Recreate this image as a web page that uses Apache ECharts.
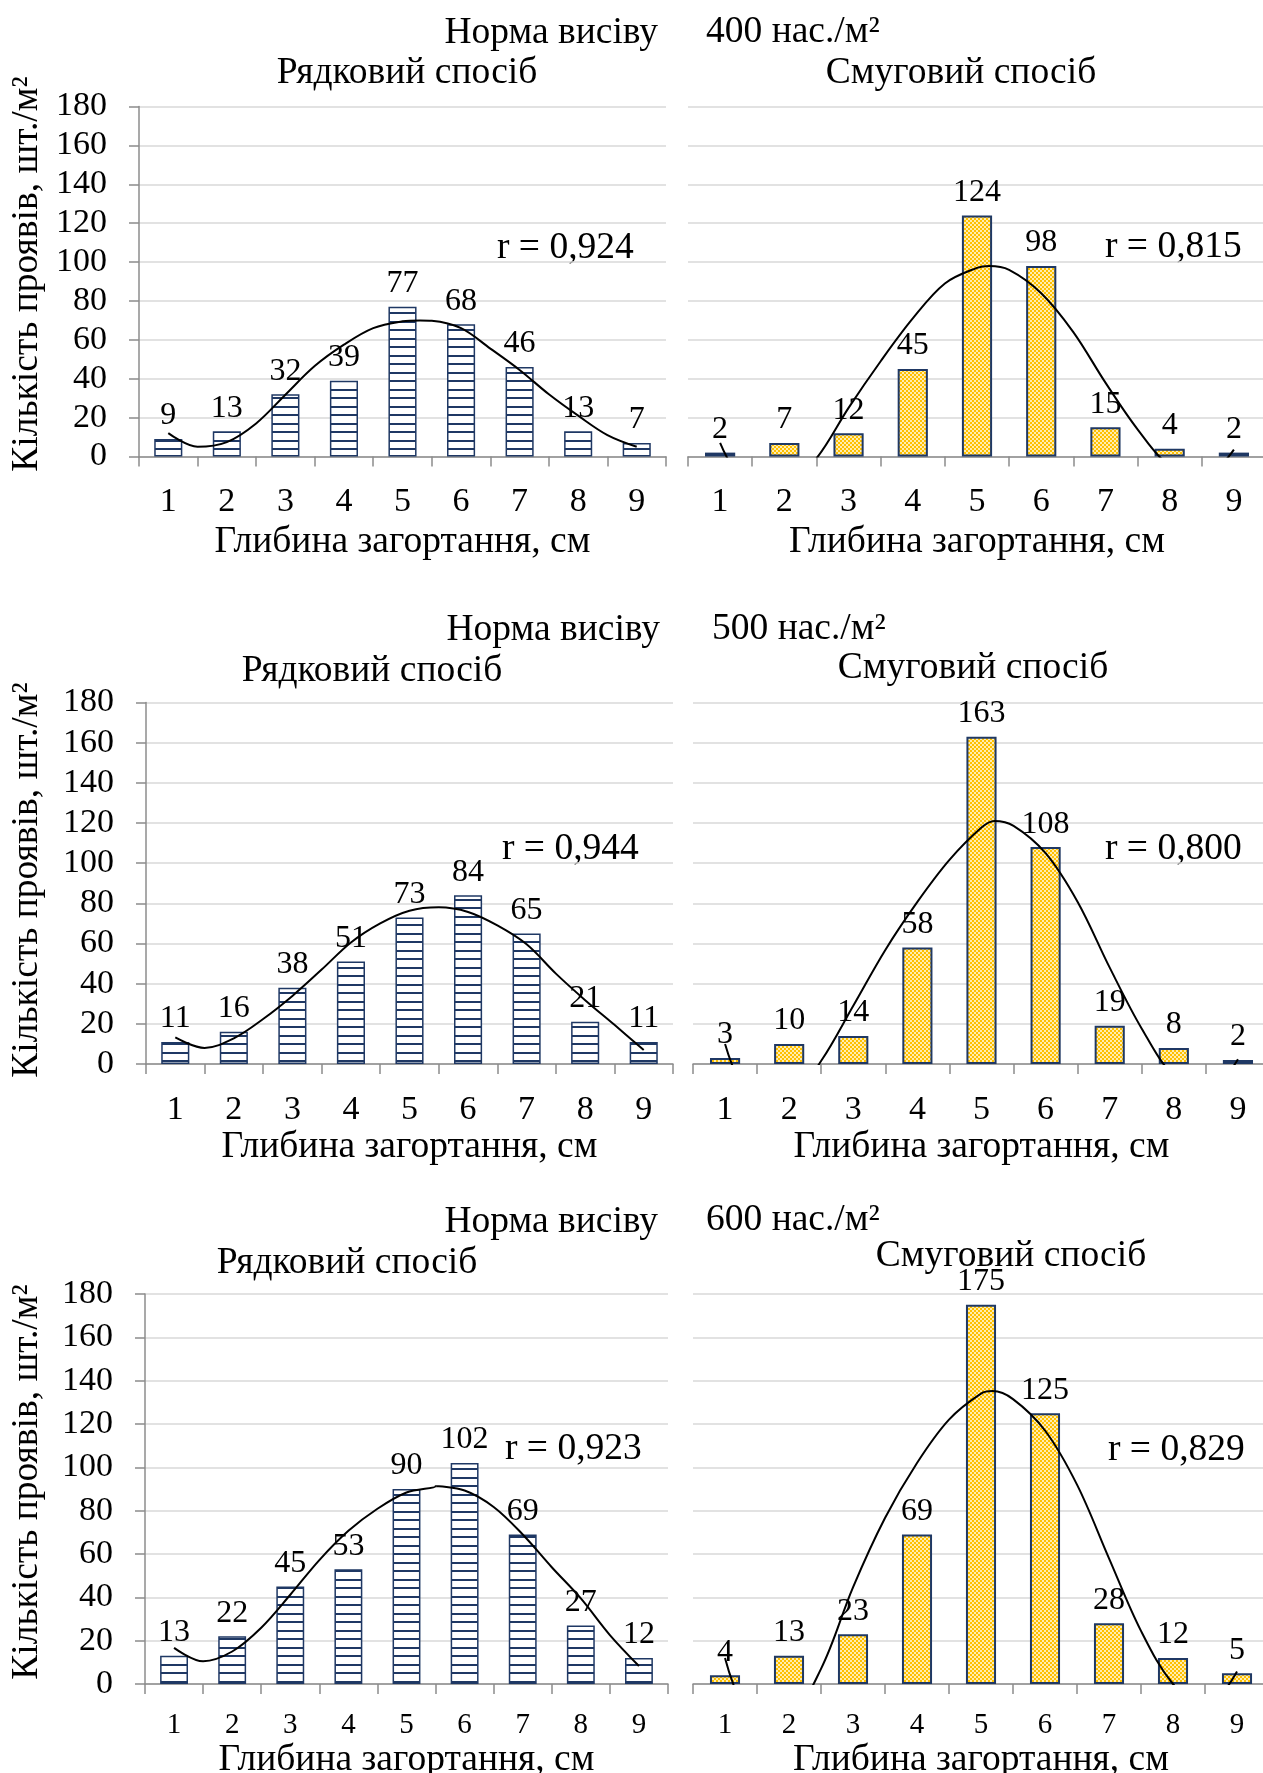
<!DOCTYPE html>
<html>
<head>
<meta charset="utf-8">
<script src="https://cdn.jsdelivr.net/npm/echarts@6/dist/echarts.min.js"></script>
<style>
  html, body { margin: 0; padding: 0; background: #fff; }
  #chart { width: 1263px; height: 1773px; }
</style>
</head>
<body>
<div id="chart"></div>
<script>
// depth of sowing, cm
var depths = ['1', '2', '3', '4', '5', '6', '7', '8', '9'];

// seedlings per m2, row sowing (Рядковий) and strip sowing (Смуговий)
var row400 = [9, 13, 32, 39, 77, 68, 46, 13, 7];
var strip400 = [2, 7, 12, 45, 124, 98, 15, 4, 2];
var row500 = [11, 16, 38, 51, 73, 84, 65, 21, 11];
var strip500 = [3, 10, 14, 58, 163, 108, 19, 8, 2];
var row600 = [13, 22, 45, 53, 90, 102, 69, 27, 12];
var strip600 = [4, 13, 23, 69, 175, 125, 28, 12, 5];

// trend lines at these depths
var trendX = [1, 1.5, 2, 2.5, 3, 3.5, 4, 4.5, 5, 5.5, 6, 6.5, 7, 7.5, 8, 8.5, 9];
var trendRow400 = [12, 5, 7.4, 17, 31.8, 46.5, 57.5, 66, 69.5, 69.8, 66, 55.5, 44.5, 32, 21, 11, 5];
var trendStrip400 = [7, -16, -16.5, -1, 25, 49, 71, 89, 97, 96, 84, 64, 38, 14, -5, -11, 3.5];
var trendRow500 = [13.2, 8, 12.8, 22.4, 33.9, 47, 60.5, 70, 76.3, 78, 75.7, 69, 59.6, 45, 31.8, 19.5, 7];
var trendStrip500 = [10, -19, -18, 1.6, 29, 56.8, 80.7, 101.6, 117.7, 118.6, 105, 80.7, 48, 17.6, -6, -14, 2.4];
var trendRow600 = [16.7, 10.5, 15, 26, 41.2, 57.2, 70.7, 80.9, 88.4, 91.3, 89.3, 81.7, 69, 53.9, 39.5, 22.6, 8.3];
var trendStrip600 = [12, -17, -15, 7, 44.6, 76.6, 102, 122, 134, 131.5, 117, 92, 58, 24.5, 0, -10.7, 5.8];
// top of each trend curve (depth, value)
var peakX = [5.3, 5.19, 5.5, 5.2, 5.5, 5.18];
var peakY = [70, 98, 78, 121, 91.5, 135.2];

var rValues = ['r = 0,924', 'r = 0,815', 'r = 0,944', 'r = 0,800', 'r = 0,923', 'r = 0,829'];
var rates = ['400 нас./м²', '500 нас./м²', '600 нас./м²'];

var FONT = '"Liberation Serif", "Times New Roman", serif';
var NAVY = '#1F3864';
var GRAY = '#8c8c8c';
var BIG = 37.5;

function stripes() {
	var c = document.createElement('canvas');
	c.width = 4; c.height = 17;
	var g = c.getContext('2d');
	g.fillStyle = '#ffffff';
	g.fillRect(0, 0, 4, 17);
	g.fillStyle = NAVY;
	g.fillRect(0, 6, 4, 2);
	g.fillRect(0, 15, 4, 2);
	return c;
}
function checker() {
	var c = document.createElement('canvas');
	c.width = 4; c.height = 4;
	var g = c.getContext('2d');
	g.fillStyle = '#FFEDB0';
	g.fillRect(0, 0, 4, 4);
	g.fillStyle = '#FFC000';
	g.fillRect(0, 0, 2, 2);
	g.fillRect(2, 2, 2, 2);
	return c;
}

var panels = [
	{ bars: row400, trend: trendRow400, striped: true, grid: { left: 139, top: 106.5, width: 527, height: 350 }, tick: 34, margin: 29, nameGap: 67 },
	{ bars: strip400, trend: trendStrip400, striped: false, grid: { left: 688, top: 106.5, width: 578, height: 350 }, tick: 34, margin: 29, nameGap: 67 },
	{ bars: row500, trend: trendRow500, striped: true, grid: { left: 146, top: 702.5, width: 527, height: 361.5 }, tick: 34, margin: 29, nameGap: 64 },
	{ bars: strip500, trend: trendStrip500, striped: false, grid: { left: 693, top: 702.5, width: 577, height: 361.5 }, tick: 34, margin: 29, nameGap: 64 },
	{ bars: row600, trend: trendRow600, striped: true, grid: { left: 145, top: 1294, width: 523, height: 390 }, tick: 29, margin: 27, nameGap: 55.5 },
	{ bars: strip600, trend: trendStrip600, striped: false, grid: { left: 693, top: 1294, width: 576, height: 390 }, tick: 29, margin: 27, nameGap: 55.5 }
];

var grids = [], xAxes = [], yAxes = [], series = [];
panels.forEach(function (p, i) {
	var g = p.grid;
	grids.push({ left: g.left, top: g.top, width: g.width, height: g.height, containLabel: false, outerBoundsMode: 'none' });
	xAxes.push({
		type: 'category', gridIndex: i, data: depths, boundaryGap: true,
		name: 'Глибина загортання, см', nameLocation: 'middle', nameGap: p.nameGap,
		nameTextStyle: { fontFamily: FONT, fontSize: BIG, color: '#000' },
		axisLine: { lineStyle: { color: GRAY, width: 1.5 } },
		axisTick: { show: true, length: 10, lineStyle: { color: GRAY, width: 1.5 } },
		axisLabel: { fontFamily: FONT, fontSize: p.tick, color: '#000', margin: p.margin }
	});
	xAxes.push({ type: 'value', gridIndex: i, min: 0.5, max: 9.5, show: false });
	var left = p.striped;
	yAxes.push({
		type: 'value', gridIndex: i, min: 0, max: 180, interval: 20,
		axisLine: { show: left, lineStyle: { color: GRAY, width: 1.5 } },
		axisTick: { show: left, length: 10, lineStyle: { color: GRAY, width: 1.5 } },
		axisLabel: { show: left, fontFamily: FONT, fontSize: 34, color: '#000', margin: 32 },
		splitLine: { lineStyle: { color: '#d9d9d9', width: 1.5 } }
	});
	series.push({
		type: 'bar', xAxisIndex: 2 * i, yAxisIndex: i, data: p.bars,
		barWidth: p.striped ? '48%' : '47%',
		itemStyle: {
			color: { image: p.striped ? stripes() : checker(), repeat: 'repeat' },
			borderColor: NAVY, borderWidth: p.striped ? 1.5 : 2
		},
		label: { show: true, position: 'top', distance: 7, fontFamily: FONT, fontSize: 32, color: '#000' },
		silent: true
	});
	var pts = trendX.map(function (x, k) { return [x, p.trend[k]]; });
	pts.push([peakX[i], peakY[i]]);
	pts.sort(function (a, b) { return a[0] - b[0]; });
	series.push({
		type: 'line', xAxisIndex: 2 * i + 1, yAxisIndex: i, data: pts,
		smooth: 0.35, symbol: 'none', clip: true, z: 5, silent: true,
		lineStyle: { color: '#000', width: 2 }
	});
});

function txt(x, y, s, size, align, rot) {
	return {
		type: 'text', x: x, y: y, rotation: rot || 0, silent: true,
		style: { text: s, font: size + 'px ' + FONT, fill: '#000',
			align: align, verticalAlign: 'middle', textAlign: align, textVerticalAlign: 'middle' }
	};
}

var graphics = [
	txt(658, 33.5, 'Норма висіву', BIG, 'right'), txt(706, 32.5, rates[0], BIG, 'left'),
	txt(407, 73.5, 'Рядковий спосіб', BIG, 'center'), txt(961, 73.5, 'Смуговий спосіб', BIG, 'center'),
	txt(660, 630, 'Норма висіву', BIG, 'right'), txt(712, 629, rates[1], BIG, 'left'),
	txt(372, 671.5, 'Рядковий спосіб', BIG, 'center'), txt(973, 668.5, 'Смуговий спосіб', BIG, 'center'),
	txt(658, 1222.5, 'Норма висіву', BIG, 'right'), txt(706, 1220.5, rates[2], BIG, 'left'),
	txt(347, 1263, 'Рядковий спосіб', BIG, 'center'), txt(1011, 1256, 'Смуговий спосіб', BIG, 'center'),
	txt(497, 248, rValues[0], BIG, 'left'), txt(1105, 247, rValues[1], BIG, 'left'),
	txt(502, 849, rValues[2], BIG, 'left'), txt(1105, 849, rValues[3], BIG, 'left'),
	txt(505, 1449, rValues[4], BIG, 'left'), txt(1108, 1450, rValues[5], BIG, 'left'),
	txt(27, 274, 'Кількість проявів, шт./м²', BIG, 'center', Math.PI / 2),
	txt(27, 880, 'Кількість проявів, шт./м²', BIG, 'center', Math.PI / 2),
	txt(27, 1482, 'Кількість проявів, шт./м²', BIG, 'center', Math.PI / 2)
];

var chart = echarts.init(document.getElementById('chart'));
chart.setOption({
	backgroundColor: '#ffffff',
	animation: false,
	textStyle: { fontFamily: FONT },
	grid: grids,
	xAxis: xAxes,
	yAxis: yAxes,
	series: series,
	graphic: graphics
});
</script>
</body>
</html>
